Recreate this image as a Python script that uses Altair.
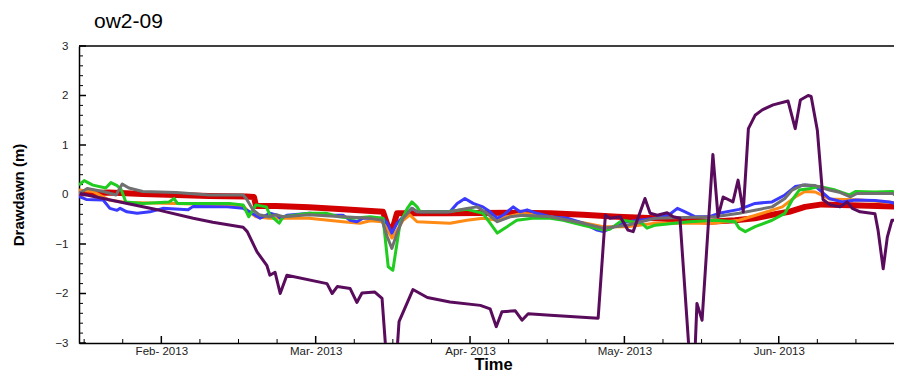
import altair as alt
import pandas as pd

# ---------------- data ----------------
month_days = [30, 60, 90, 120, 150]
month_labels = ["Feb- 2013", "Mar- 2013", "Apr- 2013", "May- 2013", "Jun- 2013"]
minor_days = [15, 22.5, 37.5, 45, 52.5, 67.5, 75, 82.5, 97.5, 105, 112.5,
              127.5, 135, 142.5, 157.5, 165]
y_major = [-3, -2, -1, 0, 1, 2, 3]
y_minor = [-2.8, -2.6, -2.4, -2.2, -1.8, -1.6, -1.4, -1.2, -0.8, -0.6, -0.4, -0.2,
           0.2, 0.4, 0.6, 0.8, 1.2, 1.4, 1.6, 1.8, 2.2, 2.4, 2.6, 2.8]
top_edge = [3]

red_day = [14.0, 19.8, 26.4, 32.9, 39.3, 46.5, 48.0, 48.4, 52.3, 58.7, 65.3, 73.1,
           73.9, 74.5, 75.2, 75.8, 86.1, 99.1, 105.6, 112.0, 118.6, 126.0, 132.6,
           136.5, 141.5, 145.4, 148.7, 152.0, 155.1, 158.4, 165.8, 174.0]
red_val = [0.02, 0.04, 0.01, -0.01, -0.03, -0.04, -0.05, -0.23, -0.23, -0.26, -0.30, -0.35,
           -0.6, -0.75, -0.6, -0.38, -0.38, -0.37, -0.38, -0.41, -0.45, -0.48, -0.52,
           -0.55, -0.52, -0.48, -0.41, -0.35, -0.25, -0.2, -0.22, -0.25]

orange_day = [14.0, 16.7, 19.8, 23.1, 32.9, 39.3, 45.9, 47.0, 48.4, 50.9, 58.7, 65.3,
              68.6, 70.6, 72.9, 73.9, 74.8, 75.8, 77.0, 78.3, 79.7, 86.1, 89.4, 92.5,
              95.3, 97.2, 100.3, 105.6, 112.0, 115.9, 120.5, 126.0, 137.1, 142.3,
              146.8, 150.7, 153.2, 155.1, 157.1, 159.8, 165.8, 172.2, 174.0]
orange_val = [0.09, 0.06, -0.11, -0.16, -0.18, -0.20, -0.23, -0.35, -0.45, -0.48, -0.48, -0.55,
              -0.58, -0.53, -0.55, -0.68, -0.88, -0.72, -0.52, -0.41, -0.55, -0.58, -0.52, -0.48,
              -0.52, -0.45, -0.38, -0.45, -0.57, -0.65, -0.65, -0.58, -0.58, -0.52,
              -0.38, -0.25, -0.05, 0.06, 0.05, -0.09, -0.11, -0.16, -0.18]

blue_day = [14.0, 15.4, 18.7, 20.0, 21.4, 22.0, 23.3, 25.3, 27.8, 30.3, 35.2, 36.2,
            42.8, 45.9, 47.2, 49.2, 51.1, 52.5, 53.1, 54.4, 58.9, 62.2, 65.3, 66.7,
            68.0, 69.2, 73.1, 73.9, 74.8, 75.8, 77.0, 78.7, 79.7, 86.1, 87.5, 89.0,
            90.6, 92.5, 93.9, 95.3, 96.4, 98.4, 99.7, 101.1, 103.0, 105.6, 108.9,
            112.0, 114.7, 115.9, 118.6, 120.5, 126.0, 128.7, 130.3, 131.8, 133.8,
            136.5, 138.4, 142.3, 145.4, 148.7, 151.2, 153.2, 155.1, 157.1, 159.8,
            162.3, 164.9, 168.7, 171.5, 172.6, 174.0]
blue_val = [-0.04, -0.10, -0.11, -0.28, -0.32, -0.28, -0.35, -0.38, -0.35, -0.28, -0.31, -0.24,
            -0.25, -0.28, -0.35, -0.48, -0.38, -0.42, -0.48, -0.42, -0.38, -0.42, -0.42, -0.52,
            -0.55, -0.48, -0.48, -0.58, -0.78, -0.58, -0.45, -0.28, -0.35, -0.35, -0.18, -0.08,
            -0.18, -0.25, -0.35, -0.48, -0.42, -0.25, -0.35, -0.31, -0.38, -0.45, -0.48,
            -0.58, -0.72, -0.75, -0.62, -0.55, -0.48, -0.41, -0.28, -0.35, -0.45,
            -0.45, -0.38, -0.30, -0.18, -0.15, -0.01, 0.16, 0.19, 0.17, -0.08,
            -0.15, -0.11, -0.12, -0.15, -0.18, -0.27]

green_day = [14.0, 15.0, 16.7, 19.2, 20.2, 21.4, 22.2, 23.1, 26.4, 31.5, 32.5, 33.1,
             43.2, 45.9, 47.0, 48.4, 50.4, 51.1, 52.9, 53.7, 58.7, 62.0, 64.5, 67.3,
             70.6, 73.1, 74.1, 75.0, 76.4, 77.8, 78.7, 79.7, 80.3, 85.5, 89.4, 92.5,
             93.9, 95.3, 97.2, 99.1, 102.1, 105.6, 108.1, 112.0, 115.9, 117.2, 119.6,
             123.4, 124.4, 126.0, 132.6, 137.6, 141.5, 142.3, 143.5, 145.4, 148.7,
             151.2, 152.6, 154.0, 156.1, 157.9, 161.0, 163.7, 164.9, 168.7, 172.2,
             173.0, 174.0]
green_val = [0.19, 0.28, 0.19, 0.13, 0.24, 0.18, 0.10, -0.15, -0.18, -0.15, -0.08, -0.18,
             -0.18, -0.21, -0.45, -0.21, -0.25, -0.41, -0.58, -0.45, -0.38, -0.38, -0.45, -0.48,
             -0.45, -0.48, -1.46, -1.53, -0.58, -0.28, -0.15, -0.25, -0.35, -0.35, -0.30, -0.38,
             -0.58, -0.78, -0.65, -0.52, -0.48, -0.48, -0.52, -0.62, -0.72, -0.70, -0.52,
             -0.58, -0.68, -0.62, -0.55, -0.52, -0.55, -0.68, -0.75, -0.65, -0.52,
             -0.38, -0.11, 0.09, 0.12, 0.16, 0.09, -0.01, 0.06, 0.05, 0.06,
             -0.05, -0.28]

gray_day = [14.0, 15.6, 18.7, 21.2, 22.4, 23.7, 26.4, 32.9, 39.3, 45.9, 46.5, 47.8,
            49.0, 50.9, 52.3, 53.7, 58.7, 65.3, 70.6, 72.9, 73.9, 74.8, 75.8, 77.0,
            78.7, 79.7, 86.1, 89.4, 91.4, 93.3, 95.3, 97.8, 100.3, 105.6, 112.0,
            115.9, 120.5, 126.0, 137.6, 142.3, 148.7, 151.2, 152.6, 154.6, 157.1,
            159.8, 162.0, 163.9, 165.2, 172.2, 174.0]
gray_val = [0.02, 0.12, 0.06, -0.01, 0.21, 0.13, 0.06, 0.04, -0.01, -0.01, -0.08, -0.31,
            -0.41, -0.45, -0.41, -0.45, -0.41, -0.45, -0.48, -0.52, -0.85, -1.09, -0.78, -0.48,
            -0.28, -0.35, -0.35, -0.28, -0.25, -0.38, -0.55, -0.45, -0.42, -0.45, -0.58,
            -0.68, -0.62, -0.48, -0.45, -0.38, -0.25, -0.08, 0.09, 0.19, 0.18,
            0.09, 0.04, -0.05, 0.02, 0.02, -0.12]

purple_day = [14.2, 18.7, 29.7, 36.2, 40.0, 45.9, 46.7, 48.6, 50.5, 51.1, 52.1, 53.1,
              54.4, 62.2, 63.2, 64.2, 66.7, 68.0, 69.0, 71.5, 72.9, 74.1, 75.4, 76.2,
              78.9, 81.7, 86.1, 92.0, 93.9, 95.1, 96.2, 98.8, 100.1, 101.3, 105.6,
              114.9, 116.3, 117.2, 119.2, 120.7, 121.7, 124.0, 125.0, 126.4, 128.3,
              129.5, 130.8, 132.8, 133.6, 134.1, 135.1, 137.2, 138.2, 139.2, 141.1,
              142.1, 143.1, 144.1, 145.4, 146.8, 148.9, 151.8, 153.2, 154.2, 155.7,
              156.3, 157.5, 158.6, 160.0, 161.9, 163.3, 164.3, 165.8, 168.7, 169.3,
              170.3, 171.1, 172.0, 173.0, 174.0]
purple_val = [0.02, -0.08, -0.32, -0.48, -0.56, -0.66, -0.75, -1.16, -1.43, -1.63, -1.57, -2.0,
              -1.63, -1.80, -2.0, -1.86, -1.90, -2.18, -1.99, -1.97, -2.10, -3.8, -3.8, -2.57,
              -1.92, -2.08, -2.17, -2.24, -2.31, -2.67, -2.37, -2.35, -2.54, -2.41, -2.44,
              -2.50, -0.42, -0.48, -0.45, -0.72, -0.75, -0.08, -0.38, -0.42, -0.37,
              -0.45, -0.48, -3.5, -3.5, -2.2, -2.54, 0.81, -0.45, -0.05, -0.15,
              0.29, -0.35, 1.33, 1.60, 1.71, 1.81, 1.89, 1.33, 1.91, 2.0,
              1.98, 1.30, -0.1, -0.21, -0.25, -0.15, -0.28, -0.35, -0.39, -0.72,
              -1.5, -0.86, -0.52, -0.52, -1.8]

# drawing order (bottom to top), colour, width
series = [
    ("red", red_day, red_val, "#d20000", 6),
    ("orange", orange_day, orange_val, "#ff8a14", 3),
    ("blue", blue_day, blue_val, "#3a3aff", 3),
    ("green", green_day, green_val, "#1fcc1f", 3),
    ("gray", gray_day, gray_val, "#707070", 3),
    ("purple", purple_day, purple_val, "#5a0c5c", 3),
]

FONT = "Liberation Sans"
W, H = 815, 297
x_scale = alt.Scale(domain=[14, 172.4], nice=False, zero=False)
y_scale = alt.Scale(domain=[-3, 3], nice=False, zero=False)

label_expr = " : ".join(
    f"datum.value == {d} ? '{l}'" for d, l in zip(month_days, month_labels)
) + " : ''"

x_axis = alt.Axis(values=month_days, labelExpr=label_expr, ticks=False, tickSize=0,
                  domain=True, domainColor="black", domainWidth=1.5, grid=False,
                  labelPadding=2, labelFontSize=11.5, labelColor="#222222",
                  title="Time", titleFontSize=16.5, titleFontWeight="bold",
                  titleX=414, titleY=26, titleAlign="center",
                  titleBaseline="alphabetic", labelFlush=False)
y_axis = alt.Axis(values=y_major, ticks=False, tickSize=0, domain=True,
                  domainColor="black", domainWidth=1.5, grid=False,
                  labelPadding=11, labelFontSize=11.5, labelColor="#222222",
                  title="Drawdawn (m)", titleFontSize=15, titleFontWeight="bold",
                  titleAngle=270, titleX=-61, titleY=148.5, titleAlign="center",
                  titleBaseline="middle", labelFlush=False)

# inward tick marks and top frame edge
xmaj = alt.Chart(pd.DataFrame({"d": month_days})).mark_rule(
    color="black", strokeWidth=1.5).encode(
    x=alt.X("d:Q", scale=x_scale, axis=x_axis),
    y=alt.value(H), y2=alt.value(H - 7))
xmin = alt.Chart(pd.DataFrame({"d": minor_days})).mark_rule(
    color="black", strokeWidth=1).encode(
    x=alt.X("d:Q", scale=x_scale, axis=x_axis),
    y=alt.value(H), y2=alt.value(H - 4))
ymaj = alt.Chart(pd.DataFrame({"v": y_major})).mark_rule(
    color="black", strokeWidth=1.5).encode(
    y=alt.Y("v:Q", scale=y_scale, axis=y_axis),
    x=alt.value(0), x2=alt.value(7))
ymin = alt.Chart(pd.DataFrame({"v": y_minor})).mark_rule(
    color="black", strokeWidth=1).encode(
    y=alt.Y("v:Q", scale=y_scale, axis=y_axis),
    x=alt.value(0), x2=alt.value(4))
topline = alt.Chart(pd.DataFrame({"v": top_edge})).mark_rule(
    color="black", strokeWidth=1.5).encode(
    y=alt.Y("v:Q", scale=y_scale, axis=y_axis),
    x=alt.value(0), x2=alt.value(W))

layers = [xmaj, xmin, ymaj, ymin]
for name, days, vals, color, width in series:
    df = pd.DataFrame({"day": days, "value": vals})
    layers.append(
        alt.Chart(df).mark_line(color=color, strokeWidth=width, clip=True,
                                strokeJoin="round").encode(
            x=alt.X("day:Q", scale=x_scale, axis=x_axis),
            y=alt.Y("value:Q", scale=y_scale, axis=y_axis),
        )
    )
layers.append(topline)

chart = alt.layer(*layers).properties(
    width=W, height=H,
    padding={"left": 71, "top": 38, "right": 0, "bottom": 29},
    autosize=alt.AutoSizeParams(type="none"),
    title=alt.Title("ow2-09", anchor="start", frame="group", dx=15, dy=13,
                    fontSize=21, fontWeight="normal", font=FONT, color="black",
                    baseline="alphabetic", offset=4),
).configure_view(stroke=None).configure_axis(
    labelFont=FONT, titleFont=FONT, titleColor="black"
)

chart.save("out.html", embed_options={"renderer": "svg", "actions": False})
